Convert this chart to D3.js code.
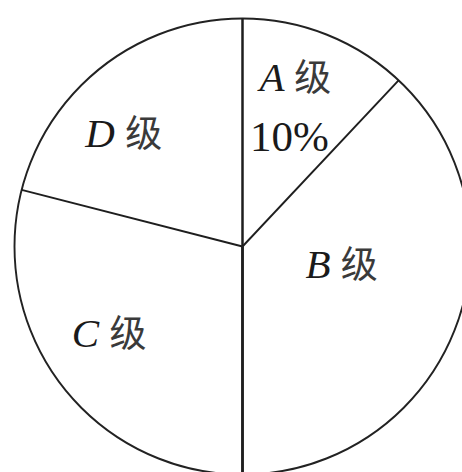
<!DOCTYPE html>
<html>
<head>
<meta charset="utf-8">
<script src="https://cdn.jsdelivr.net/npm/d3@7"></script>
<style>
  html, body { margin: 0; padding: 0; background: #fff; }
  svg { display: block; }
</style>
</head>
<body>
<svg id="chart" width="462" height="472"></svg>
<script>
const grades = ["A", "B", "C", "D"];
const shares = [12, 38, 29, 21];
// only A carries a percentage label in the figure
const shareText = ["10%", "", "", ""];

const width = 462, height = 472;
const cx = 242.5, cy = 246.5, radius = 228;

// where each label sits: polar position (deg clockwise from top, px from centre)
const labelAt = {
  A: { angle: 18.8, r: 164 },
  B: { angle: 107.6, r: 104 },
  C: { angle: 233, r: 167 },
  D: { angle: 310, r: 155 }
};

const svg = d3.select("#chart");
const g = svg.append("g").attr("transform", `translate(${cx},${cy})`);

const data = grades.map((k, i) => ({ grade: k, value: shares[i], text: shareText[i] }));

const pie = d3.pie().sort(null).value(d => d.value);
const arcs = pie(data);
const arc = d3.arc().innerRadius(0).outerRadius(radius);

// slices (white, no stroke on their own)
g.selectAll("path.slice")
  .data(arcs)
  .join("path")
  .attr("class", "slice")
  .attr("d", arc)
  .attr("fill", "#fff");

// outer circle
g.append("circle")
  .attr("r", radius)
  .attr("fill", "none")
  .attr("stroke", "#222")
  .attr("stroke-width", 1.9);

// radial dividers at each slice start
const rays = arcs.map(d => d.startAngle);
rays.push(Math.PI); // the straight line through the bottom (end of B)
g.selectAll("line.ray")
  .data(d3.union(rays))
  .join("line")
  .attr("class", "ray")
  .attr("x1", 0).attr("y1", 0)
  .attr("x2", a => radius * Math.sin(a))
  .attr("y2", a => -radius * Math.cos(a))
  .attr("stroke", "#1e1e1e")
  .attr("stroke-width", a => (Math.abs(Math.sin(a)) < 1e-6 ? 2.5 : 1.9));

// labels
const lab = g.selectAll("g.label")
  .data(data)
  .join("g")
  .attr("class", "label")
  .attr("transform", d => {
    const p = labelAt[d.grade];
    const a = p.angle * Math.PI / 180;
    return `translate(${p.r * Math.sin(a)},${-p.r * Math.cos(a)})`;
  });

const line1 = lab.append("text")
  .attr("text-anchor", "middle")
  .attr("fill", "#1a1a1a");
line1.append("tspan")
  .attr("font-family", "'Liberation Serif', 'Times New Roman', serif")
  .attr("font-style", "italic")
  .attr("font-size", 41)
  .text(d => d.grade + " ");
line1.append("tspan")
  .attr("font-family", "'Noto Sans CJK SC', sans-serif")
  .attr("font-size", 37)
  .attr("fill", "#3a3a3a")
  .text("级");

lab.filter(d => d.text)
  .append("text")
  .attr("text-anchor", "middle")
  .attr("x", -6)
  .attr("y", 60)
  .attr("font-family", "'Liberation Serif', 'Times New Roman', serif")
  .attr("font-size", 43)
  .attr("fill", "#1a1a1a")
  .text(d => d.text);
</script>
</body>
</html>
